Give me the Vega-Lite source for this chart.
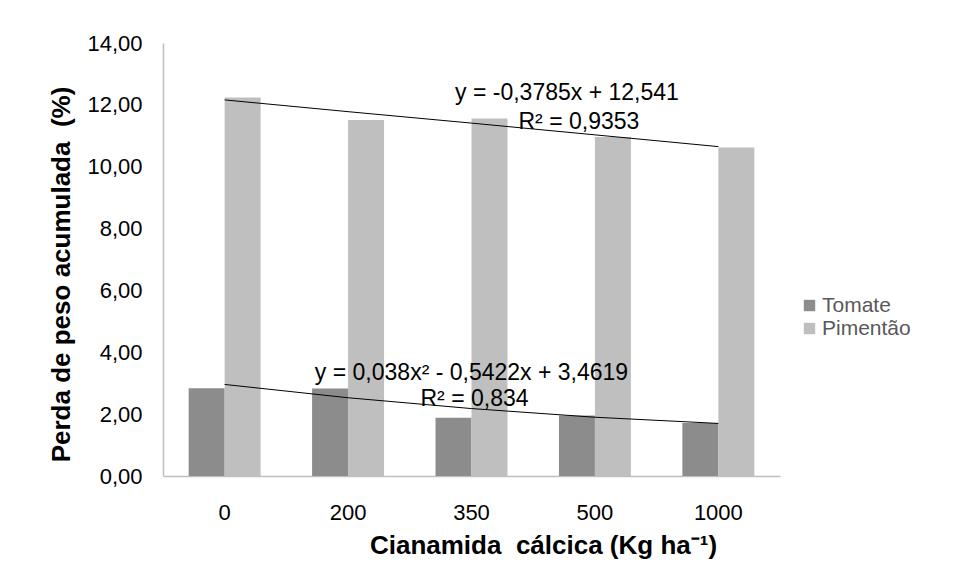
{
  "$schema": "https://vega.github.io/schema/vega-lite/v6.json",
  "width": 617,
  "height": 433,
  "autosize": {"type": "none"},
  "padding": {"left": 163, "top": 43, "right": 174, "bottom": 105},
  "background": "white",
  "config": {"view": {"stroke": null}, "font": "Liberation Sans"},
  "datasets": {
    "bars": [
      {"dose": "0", "serie": "Tomate", "v": 2.84},
      {"dose": "0", "serie": "Pimentão", "v": 12.24},
      {"dose": "200", "serie": "Tomate", "v": 2.83},
      {"dose": "200", "serie": "Pimentão", "v": 11.51},
      {"dose": "350", "serie": "Tomate", "v": 1.88},
      {"dose": "350", "serie": "Pimentão", "v": 11.56},
      {"dose": "500", "serie": "Tomate", "v": 1.96},
      {"dose": "500", "serie": "Pimentão", "v": 10.96},
      {"dose": "1000", "serie": "Tomate", "v": 1.71},
      {"dose": "1000", "serie": "Pimentão", "v": 10.62}
    ],
    "trend": [
      {"dose": "0", "serie": "Pimentão", "v": 12.16},
      {"dose": "200", "serie": "Pimentão", "v": 11.78},
      {"dose": "350", "serie": "Pimentão", "v": 11.41},
      {"dose": "500", "serie": "Pimentão", "v": 11.03},
      {"dose": "1000", "serie": "Pimentão", "v": 10.65},
      {"dose": "0", "serie": "Tomate", "v": 2.96},
      {"dose": "200", "serie": "Tomate", "v": 2.53},
      {"dose": "350", "serie": "Tomate", "v": 2.18},
      {"dose": "500", "serie": "Tomate", "v": 1.90},
      {"dose": "1000", "serie": "Tomate", "v": 1.70}
    ]
  },
  "encoding": {
    "x": {
      "field": "dose",
      "type": "ordinal",
      "sort": ["0", "200", "350", "500", "1000"],
      "scale": {"paddingInner": 0.417, "paddingOuter": 0.208},
      "axis": {
        "title": "Cianamida\u00a0 cálcica (Kg ha⁻¹)",
        "titleFontSize": 26,
        "titleFontWeight": "bold",
        "titleColor": "#000000",
        "titlePadding": 9,
        "titleX": 380,
        "labelAngle": 0,
        "labelFontSize": 22,
        "labelColor": "#000000",
        "labelPadding": 26,
        "ticks": false,
        "domainColor": "#BFBFBF",
        "domainWidth": 1.5
      }
    },
    "y": {
      "field": "v",
      "type": "quantitative",
      "scale": {"domain": [0, 14]},
      "axis": {
        "title": "Perda de peso acumulada\u00a0 (%)",
        "titleFontSize": 26,
        "titleFontWeight": "bold",
        "titleColor": "#000000",
        "titlePadding": 12,
        "titleY": 231,
        "values": [0, 2, 4, 6, 8, 10, 12, 14],
        "labelExpr": "replace(format(datum.value, '.2f'), '.', ',')",
        "labelFontSize": 22,
        "labelColor": "#000000",
        "labelPadding": 21,
        "ticks": false,
        "grid": false,
        "domainColor": "#BFBFBF",
        "domainWidth": 1.5
      }
    }
  },
  "layer": [
    {
      "data": {"name": "bars"},
      "mark": {"type": "bar"},
      "encoding": {
        "xOffset": {"field": "serie", "type": "nominal", "sort": ["Tomate", "Pimentão"], "scale": {"paddingInner": 0, "paddingOuter": 0}},
        "color": {
          "field": "serie",
          "type": "nominal",
          "sort": ["Tomate", "Pimentão"],
          "scale": {"domain": ["Tomate", "Pimentão"], "range": ["#8C8C8C", "#BFBFBF"]},
          "legend": {
            "title": null,
            "orient": "none",
            "legendX": 636,
            "legendY": 252,
            "symbolType": "square",
            "symbolSize": 130,
            "symbolStrokeWidth": 0,
            "labelFontSize": 21,
            "labelColor": "#595959",
            "labelOffset": 2,
            "rowPadding": 1
          }
        }
      }
    },
    {
      "data": {"name": "trend"},
      "mark": {"type": "line", "color": "#000000", "strokeWidth": 1},
      "encoding": {"detail": {"field": "serie", "type": "nominal"}}
    },
    {
      "data": {"values": [{"dose": "500", "v": 12.38, "t": "y = -0,3785x + 12,541"}]},
      "mark": {"type": "text", "fontSize": 23, "color": "#000000", "dx": -28, "baseline": "middle"},
      "encoding": {"text": {"field": "t"}}
    },
    {
      "data": {"values": [{"dose": "500", "v": 11.45, "t": "R² = 0,9353"}]},
      "mark": {"type": "text", "fontSize": 23, "color": "#000000", "dx": -16, "baseline": "middle"},
      "encoding": {"text": {"field": "t"}}
    },
    {
      "data": {"values": [{"dose": "350", "v": 3.33, "t": "y = 0,038x² - 0,5422x + 3,4619"}]},
      "mark": {"type": "text", "fontSize": 23, "color": "#000000", "dx": 0, "baseline": "middle"},
      "encoding": {"text": {"field": "t"}}
    },
    {
      "data": {"values": [{"dose": "350", "v": 2.49, "t": "R² = 0,834"}]},
      "mark": {"type": "text", "fontSize": 23, "color": "#000000", "dx": 3, "baseline": "middle"},
      "encoding": {"text": {"field": "t"}}
    }
  ]
}
